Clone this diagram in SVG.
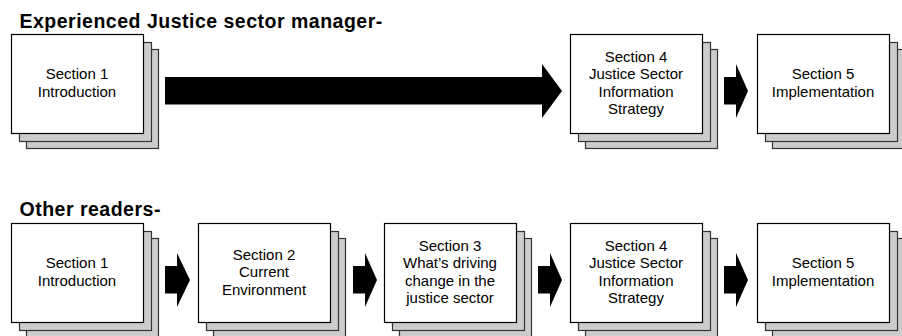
<svg xmlns="http://www.w3.org/2000/svg" width="902" height="336" viewBox="0 0 902 336">
  <style>
    .title { font-family: "Liberation Sans", Arial, sans-serif; font-weight: bold; font-size: 19.5px; letter-spacing: 0.5px; fill: #000; }
    .label { font-family: "Liberation Sans", Arial, sans-serif; font-size: 15px; fill: #000; text-anchor: middle; }
    .page-back { fill: #cccccc; stroke: #333333; stroke-width: 1.2; }
    .page-front { fill: #ffffff; stroke: #000000; stroke-width: 1.2; }
    .arrow { fill: #000000; stroke: none; }
  </style>
  <defs>
    <!-- a stack of three pages, 132x99 each -->
    <g id="stack">
      <rect class="page-back" x="15.5" y="15.5" width="132" height="99"/>
      <rect class="page-back" x="8.5" y="8.5" width="132" height="99"/>
      <rect class="page-front" x="0.5" y="0.5" width="132" height="99"/>
    </g>
  </defs>

  <rect x="0" y="0" width="902" height="336" fill="#ffffff"/>

  <text class="title" x="19.5" y="27.5">Experienced Justice sector manager-</text>
  <text class="title" x="19.5" y="216">Other readers-</text>

  <!-- top row -->
  <g id="top-s1">
    <use href="#stack" x="11" y="34"/>
    <text class="label" x="77" y="79.25">Section 1</text>
    <text class="label" x="77" y="96.75">Introduction</text>
  </g>
  <g id="top-s4">
    <use href="#stack" x="570" y="34"/>
    <text class="label" x="636" y="61.75">Section 4</text>
    <text class="label" x="636" y="79.25">Justice Sector</text>
    <text class="label" x="636" y="96.75">Information</text>
    <text class="label" x="636" y="114.25">Strategy</text>
  </g>
  <g id="top-s5">
    <use href="#stack" x="757" y="34"/>
    <text class="label" x="823" y="79.25">Section 5</text>
    <text class="label" x="823" y="96.75">Implementation</text>
  </g>

  <!-- bottom row -->
  <g id="bot-s1">
    <use href="#stack" x="11" y="223"/>
    <text class="label" x="77" y="268.25">Section 1</text>
    <text class="label" x="77" y="285.75">Introduction</text>
  </g>
  <g id="bot-s2">
    <use href="#stack" x="198" y="223"/>
    <text class="label" x="264" y="259.5">Section 2</text>
    <text class="label" x="264" y="277">Current</text>
    <text class="label" x="264" y="294.5">Environment</text>
  </g>
  <g id="bot-s3">
    <use href="#stack" x="384" y="223"/>
    <text class="label" x="450" y="250.75">Section 3</text>
    <text class="label" x="450" y="268.25">What’s driving</text>
    <text class="label" x="450" y="285.75">change in the</text>
    <text class="label" x="450" y="303.25">justice sector</text>
  </g>
  <g id="bot-s4">
    <use href="#stack" x="570" y="223"/>
    <text class="label" x="636" y="250.75">Section 4</text>
    <text class="label" x="636" y="268.25">Justice Sector</text>
    <text class="label" x="636" y="285.75">Information</text>
    <text class="label" x="636" y="303.25">Strategy</text>
  </g>
  <g id="bot-s5">
    <use href="#stack" x="757" y="223"/>
    <text class="label" x="823" y="268.25">Section 5</text>
    <text class="label" x="823" y="285.75">Implementation</text>
  </g>

  <!-- block arrows -->
  <g id="connectors">
    <polygon class="arrow" points="165,77 542,77 542,64 562,91 542,118 542,104.5 165,104.5"/>
    <polygon class="arrow" points="724,77 736,77 736,64 748,91 736,118 736,104.5 724,104.5"/>
    <polygon class="arrow" points="165,266 177,266 177,253 190,280 177,307 177,293.5 165,293.5"/>
    <polygon class="arrow" points="353,266 365,266 365,253 377,280 365,307 365,293.5 353,293.5"/>
    <polygon class="arrow" points="538,266 550,266 550,253 562,280 550,307 550,293.5 538,293.5"/>
    <polygon class="arrow" points="724,266 736,266 736,253 748,280 736,307 736,293.5 724,293.5"/>
  </g>
</svg>
